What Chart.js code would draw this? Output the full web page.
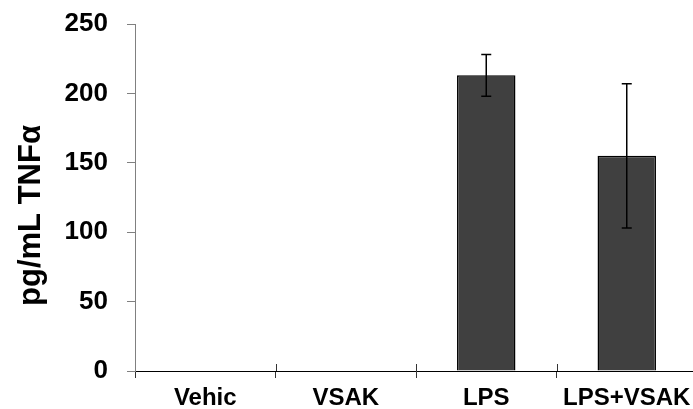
<!DOCTYPE html>
<html>
<head>
<meta charset="utf-8">
<script src="https://cdn.jsdelivr.net/npm/chart.js@4/dist/chart.umd.min.js"></script>
<style>
  html, body { margin: 0; padding: 0; background: #fff; overflow: hidden; }
  #wrap { width: 700px; height: 409px; }
</style>
</head>
<body>
<div id="wrap"><canvas id="c" width="700" height="409"></canvas></div>
<script>
// TNF-alpha concentration per treatment group (mean and error)
const categories = ['Vehic', 'VSAK', 'LPS', 'LPS+VSAK'];
const tnfMeans = [0, 0, 213, 155];
const tnfErrors = [0, 0, 15, 52];
const yTicks = [0, 50, 100, 150, 200, 250];
const yTitle = 'pg/mL TNF\u03b1';

const FONT = '"Liberation Sans", Arial, sans-serif';

// Vertical error bars with caps, placed on each bar's centre
const errorBars = {
  id: 'errorBars',
  afterDatasetsDraw(chart) {
    const meta = chart.getDatasetMeta(0);
    const y = chart.scales.y;
    const ctx = chart.ctx;
    ctx.save();
    ctx.strokeStyle = '#000';
    ctx.lineWidth = 1.5;
    meta.data.forEach((bar, i) => {
      const err = tnfErrors[i];
      if (!err) return;
      const top = y.getPixelForValue(tnfMeans[i] + err);
      const bot = y.getPixelForValue(tnfMeans[i] - err);
      const cap = 5;
      ctx.beginPath();
      ctx.moveTo(bar.x, top); ctx.lineTo(bar.x, bot);
      ctx.moveTo(bar.x - cap, top); ctx.lineTo(bar.x + cap, top);
      ctx.moveTo(bar.x - cap, bot); ctx.lineTo(bar.x + cap, bot);
      ctx.stroke();
    });
    ctx.restore();
  }
};

// Category separators cross the axis line; draw the part above it
// and the rotated y-axis title
const axisExtras = {
  id: 'axisExtras',
  afterDraw(chart) {
    const ctx = chart.ctx;
    const x = chart.scales.x;
    const ca = chart.chartArea;
    const n = categories.length;
    const step = x.width / n;
    ctx.save();
    ctx.strokeStyle = '#333';
    ctx.lineWidth = 1;
    for (let i = 1; i <= n; i++) {
      const px = Math.round(x.left + i * step) + 0.5;
      ctx.beginPath();
      ctx.moveTo(px, ca.bottom - 7);
      ctx.lineTo(px, ca.bottom);
      ctx.stroke();
    }
    ctx.translate(31, ca.top + ca.height / 2 + 18);
    ctx.rotate(-Math.PI / 2);
    ctx.fillStyle = '#000';
    ctx.font = 'bold 31px ' + FONT;
    ctx.textAlign = 'center';
    ctx.textBaseline = 'middle';
    ctx.fillText(yTitle, 0, 0);
    ctx.restore();
  }
};

new Chart(document.getElementById('c'), {
  type: 'bar',
  data: {
    labels: categories,
    datasets: [{
      data: tnfMeans,
      backgroundColor: '#404040',
      borderColor: '#000',
      borderWidth: 1.5,
      barPercentage: 0.416,
      categoryPercentage: 1.0
    }]
  },
  options: {
    responsive: false,
    animation: false,
    events: [],
    layout: { padding: { top: 24, right: 3, left: 0, bottom: 0 } },
    plugins: { legend: { display: false }, tooltip: { enabled: false } },
    scales: {
      x: {
        grid: { display: true, drawOnChartArea: false, drawTicks: true, tickLength: 7, color: '#333', offset: true },
        border: { display: true, color: '#000', width: 1 },
        ticks: { color: '#000', font: { family: FONT, size: 24, weight: 'bold' }, padding: 6, maxRotation: 0, autoSkip: false },
        afterFit(s) { s.height = 38; }
      },
      y: {
        min: 0, max: 250,
        afterBuildTicks(s) { s.ticks = yTicks.map(v => ({ value: v })); },
        grid: { display: true, drawOnChartArea: false, drawTicks: true, tickLength: 8, color: '#808080' },
        border: { display: true, color: '#808080', width: 1 },
        ticks: { color: '#000', font: { family: FONT, size: 26, weight: 'bold' }, padding: 19 },
        afterFit(s) { s.width = 135; s.paddingTop = 0; s.paddingBottom = 0; }
      }
    }
  },
  plugins: [errorBars, axisExtras]
});
</script>
</body>
</html>
